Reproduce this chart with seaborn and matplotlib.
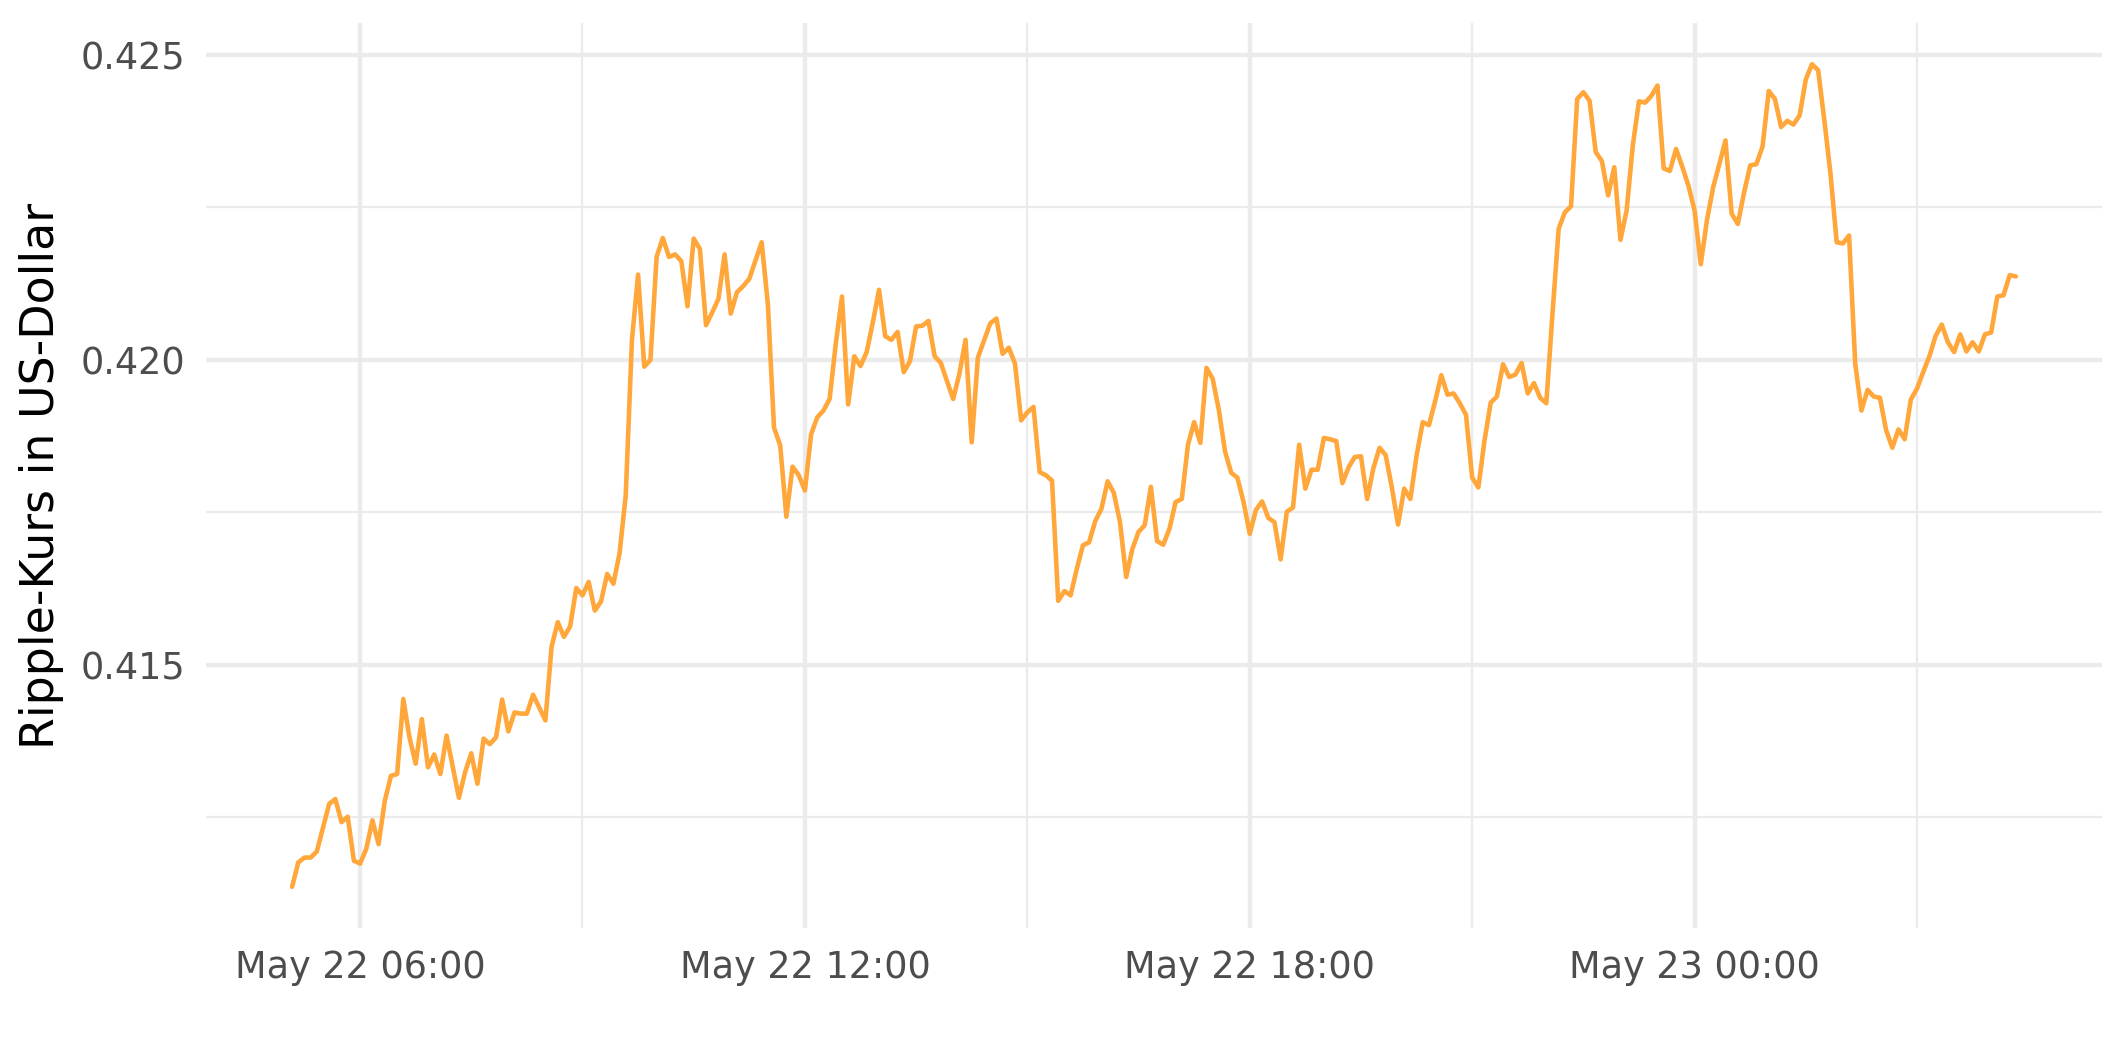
import pandas as pd
import numpy as np
import matplotlib
matplotlib.use('Agg')
import matplotlib.pyplot as plt
import matplotlib.dates as mdates
from matplotlib.ticker import FixedLocator, FormatStrFormatter
import seaborn as sns

# Ripple (XRP) price, 5-minute steps starting May 22 05:05
start_time = '2019-05-22 05:05'
price = [
    0.41136, 0.41176, 0.41184, 0.41184, 0.41194, 0.41233, 0.41272, 0.41280, 0.41242, 0.41251, 0.41179, 0.41174,
    0.41198, 0.41245, 0.41206, 0.41277, 0.41318, 0.41321, 0.41444, 0.41381, 0.41338, 0.41411, 0.41332, 0.41353,
    0.41321, 0.41384, 0.41333, 0.41282, 0.41324, 0.41355, 0.41305, 0.41379, 0.41370, 0.41381, 0.41443, 0.41391,
    0.41422, 0.41420, 0.41420, 0.41451, 0.41430, 0.41409, 0.41530, 0.41570, 0.41546, 0.41563, 0.41626, 0.41614,
    0.41636, 0.41589, 0.41604, 0.41649, 0.41633, 0.41683, 0.41778, 0.42032, 0.42140, 0.41989, 0.42000, 0.42169,
    0.42200, 0.42169, 0.42173, 0.42162, 0.42088, 0.42199, 0.42182, 0.42057, 0.42078, 0.42100, 0.42173, 0.42076,
    0.42111, 0.42121, 0.42133, 0.42163, 0.42193, 0.42092, 0.41889, 0.41860, 0.41743, 0.41825, 0.41811, 0.41786,
    0.41878, 0.41906, 0.41917, 0.41936, 0.42027, 0.42104, 0.41927, 0.42006, 0.41990, 0.42013, 0.42062, 0.42115,
    0.42039, 0.42033, 0.42046, 0.41980, 0.41998, 0.42055, 0.42056, 0.42064, 0.42006, 0.41995, 0.41965, 0.41936,
    0.41977, 0.42033, 0.41865, 0.42004, 0.42032, 0.42060, 0.42068, 0.42010, 0.42020, 0.41994, 0.41901, 0.41914,
    0.41923, 0.41816, 0.41811, 0.41802, 0.41605, 0.41621, 0.41614, 0.41657, 0.41696, 0.41701, 0.41736, 0.41756,
    0.41801, 0.41782, 0.41734, 0.41644, 0.41690, 0.41718, 0.41729, 0.41792, 0.41703, 0.41697, 0.41723, 0.41767,
    0.41772, 0.41861, 0.41898, 0.41864, 0.41987, 0.41969, 0.41918, 0.41850, 0.41815, 0.41807, 0.41767, 0.41715,
    0.41754, 0.41768, 0.41741, 0.41734, 0.41673, 0.41751, 0.41758, 0.41861, 0.41789, 0.41820, 0.41820, 0.41872,
    0.41870, 0.41867, 0.41798, 0.41824, 0.41841, 0.41842, 0.41772, 0.41822, 0.41856, 0.41844, 0.41791, 0.41730,
    0.41789, 0.41772, 0.41843, 0.41898, 0.41893, 0.41932, 0.41975, 0.41943, 0.41945, 0.41929, 0.41910, 0.41807,
    0.41791, 0.41868, 0.41930, 0.41940, 0.41993, 0.41972, 0.41976, 0.41995, 0.41945, 0.41962, 0.41938, 0.41929,
    0.42076, 0.42215, 0.42242, 0.42252, 0.42428, 0.42439, 0.42425, 0.42341, 0.42326, 0.42270, 0.42316, 0.42197,
    0.42245, 0.42352, 0.42424, 0.42422, 0.42433, 0.42450, 0.42314, 0.42310, 0.42346, 0.42317, 0.42286, 0.42245,
    0.42157, 0.42229, 0.42283, 0.42321, 0.42360, 0.42240, 0.42223, 0.42274, 0.42319, 0.42321, 0.42350, 0.42441,
    0.42428, 0.42382, 0.42392, 0.42386, 0.42401, 0.42460, 0.42485, 0.42475, 0.42393, 0.42305, 0.42193, 0.42191,
    0.42204, 0.41994, 0.41917, 0.41951, 0.41940, 0.41938, 0.41885, 0.41856, 0.41886, 0.41870, 0.41935, 0.41953,
    0.41980, 0.42006, 0.42039, 0.42058, 0.42029, 0.42013, 0.42042, 0.42014, 0.42029, 0.42014, 0.42042, 0.42045,
    0.42104, 0.42106, 0.42139, 0.42137,
]
y_major = [0.415, 0.420, 0.425]
y_minor = [0.4125, 0.4175, 0.4225]
y_label = 'Ripple-Kurs in US-Dollar'

line_color = '#FFA73A'
grid_color = '#EBEBEB'
text_color = '#4D4D4D'

df = pd.DataFrame({
    'time': pd.date_range(start_time, periods=len(price), freq='5min'),
    'price': price,
})

sns.set_theme(style='white')
plt.rcParams['font.family'] = ['DejaVu Sans']

fig = plt.figure(figsize=(2125 / 300, 1062 / 300), dpi=300)
ax = fig.add_axes([0.0969, 0.1262, 0.8923, 0.8521])

sns.lineplot(data=df, x='time', y='price', color=line_color, linewidth=1.1, ax=ax)
ax.margins(x=0.05, y=0.05)

# x axis: labelled every 6 h, minor grid every 3 h
ax.xaxis.set_major_locator(mdates.HourLocator(byhour=[0, 6, 12, 18]))
ax.xaxis.set_minor_locator(mdates.HourLocator(byhour=[3, 9, 15, 21]))
ax.xaxis.set_major_formatter(mdates.DateFormatter('%b %d %H:%M'))

ax.yaxis.set_major_locator(FixedLocator(y_major))
ax.yaxis.set_minor_locator(FixedLocator(y_minor))
ax.yaxis.set_major_formatter(FormatStrFormatter('%.3f'))

ax.grid(which='major', color=grid_color, linewidth=1.07)
ax.grid(which='minor', color=grid_color, linewidth=0.53)
ax.set_axisbelow(True)
for s in ax.spines.values():
    s.set_visible(False)

ax.tick_params(which='both', length=0)
ax.tick_params(axis='both', which='major', labelsize=8.8, labelcolor=text_color, pad=5)

ax.set_xlabel('')
ax.set_ylabel(y_label, fontsize=11, color='black', labelpad=4)

fig.savefig('out.png', dpi=300, facecolor='white')
